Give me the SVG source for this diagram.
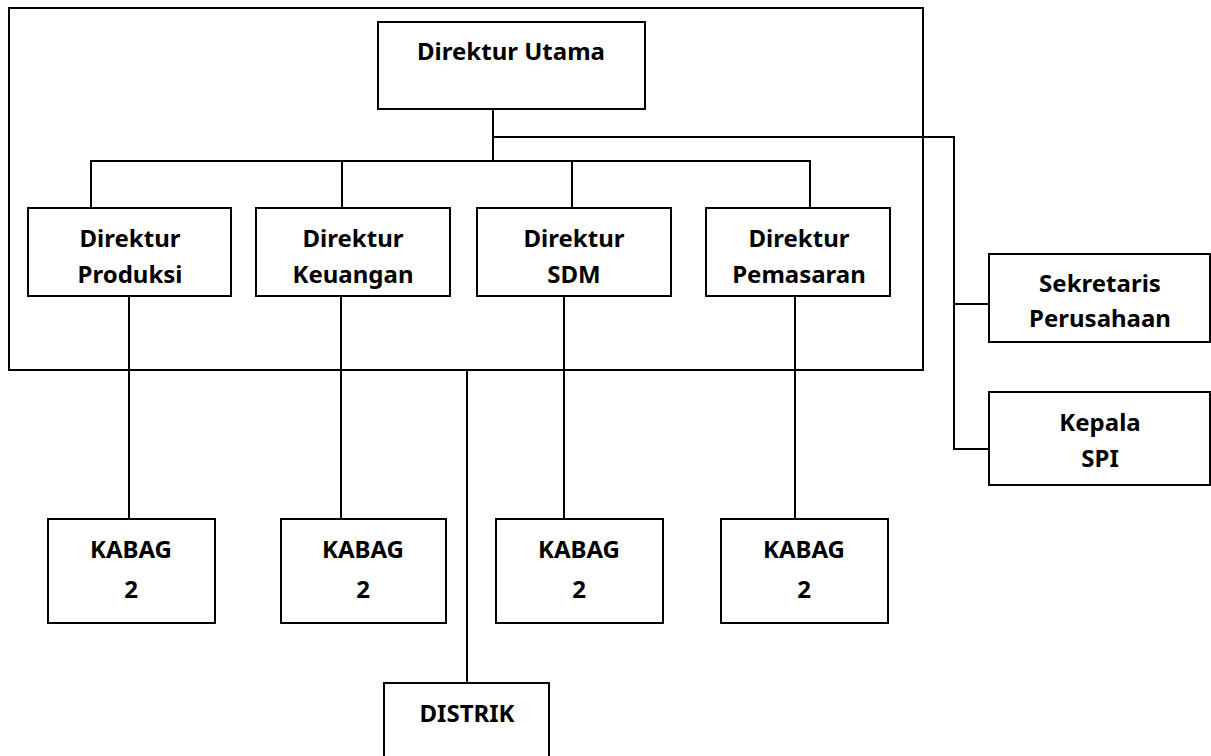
<svg xmlns="http://www.w3.org/2000/svg" width="1211" height="756" viewBox="0 0 1211 756">
<style>
.box{fill:#fff;stroke:#000;stroke-width:2}
.ln{fill:none;stroke:#000;stroke-width:2}
text{font-family:"Noto Sans","Open Sans","Liberation Sans",sans-serif;font-weight:bold;font-size:24px;fill:#000;text-anchor:middle}
</style>
<rect width="1211" height="756" fill="#fff"/>
<g id="frame"><rect class="ln" x="9" y="8" width="914" height="362"/></g>
<g id="connectors">
<path class="ln" d="M493 109V161M91 208V161H810V208M342 161V208M572 161V208"/>
<path class="ln" d="M494 137H954V449H989M954 304H989"/>
<path class="ln" d="M129 296V519M341 296V519M564 296V519M795 296V519M467 370V683"/>
</g>
<g id="direktur-utama"><rect class="box" x="378" y="22" width="267" height="87"/><text x="511" y="60">Direktur Utama</text></g>
<g id="dir-produksi"><rect class="box" x="28" y="208" width="203" height="88"/><text x="130" y="247">Direktur</text><text x="130" y="283">Produksi</text></g>
<g id="dir-keuangan"><rect class="box" x="256" y="208" width="194" height="88"/><text x="353" y="247">Direktur</text><text x="353" y="283">Keuangan</text></g>
<g id="dir-sdm"><rect class="box" x="477" y="208" width="194" height="88"/><text x="574" y="247">Direktur</text><text x="574" y="283">SDM</text></g>
<g id="dir-pemasaran"><rect class="box" x="706" y="208" width="184" height="88"/><text x="799" y="247">Direktur</text><text x="799" y="283">Pemasaran</text></g>
<g id="sekretaris"><rect class="box" x="989" y="254" width="221" height="88"/><text x="1100" y="292">Sekretaris</text><text x="1100" y="327">Perusahaan</text></g>
<g id="kepala-spi"><rect class="box" x="989" y="392" width="221" height="93"/><text x="1100" y="431">Kepala</text><text x="1100" y="467">SPI</text></g>
<g id="kabag1"><rect class="box" x="48" y="519" width="167" height="104"/><text x="131" y="558">KABAG</text><text x="131" y="598">2</text></g>
<g id="kabag2"><rect class="box" x="281" y="519" width="165" height="104"/><text x="363" y="558">KABAG</text><text x="363" y="598">2</text></g>
<g id="kabag3"><rect class="box" x="496" y="519" width="167" height="104"/><text x="579" y="558">KABAG</text><text x="579" y="598">2</text></g>
<g id="kabag4"><rect class="box" x="721" y="519" width="167" height="104"/><text x="804" y="558">KABAG</text><text x="804" y="598">2</text></g>
<g id="distrik"><rect class="box" x="384" y="683" width="165" height="90"/><text x="467" y="722">DISTRIK</text></g>
</svg>
